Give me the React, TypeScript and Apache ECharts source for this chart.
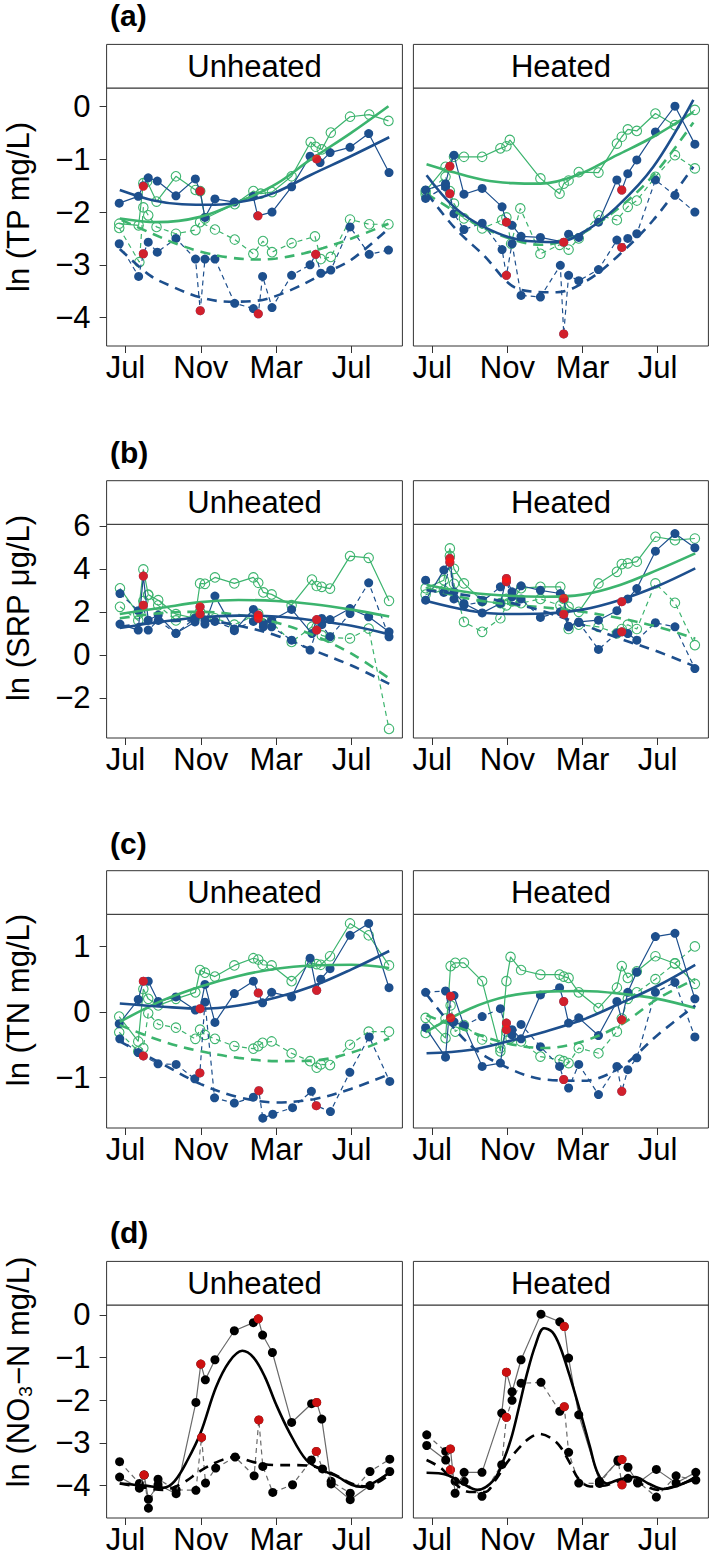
import React, { useEffect, useRef } from "react";
import * as echarts from "echarts";

// ---------- axis / labels ----------
const monthTicks = [0, 4, 8, 12];
const monthLabels = ["Jul", "Nov", "Mar", "Jul"];
const panelTitles = ["Unheated", "Heated"];
const rowLetters = ["(a)", "(b)", "(c)", "(d)"];
const yTitles = ["ln (TP mg/L)", "ln (SRP μg/L)", "ln (TN mg/L)", "ln (NO₃−N mg/L)"];
const yTickValues = [[-4, -3, -2, -1, 0], [-2, 0, 2, 4, 6], [-1, 0, 1], [-4, -3, -2, -1, 0]];
const yRanges = [[-4.54, 0.355], [-3.87, 6.07], [-1.77, 1.49], [-4.76, 0.234]];
const xRange = [-1.0, 14.7];

// ---------- (a) TP, Unheated ----------
const tpU_blue = [[-0.33,-1.83],[0.68,-1.70],[0.95,-1.50],[1.21,-1.35],[1.69,-1.41],[2.68,-1.69],[3.71,-1.37],[3.96,-1.60],[4.22,-2.10],[4.75,-1.75],[5.78,-1.81],[6.78,-1.70],[7.02,-2.07],[7.78,-2.0],[8.82,-1.52],[9.80,-0.94],[10.15,-0.99],[10.33,-1.06],[10.86,-0.87],[11.92,-0.77],[12.91,-0.51],[13.99,-1.25]];
const tpU_blueDash = [[-0.33,-2.60],[0.70,-3.22],[0.95,-2.79],[1.21,-2.57],[1.69,-2.76],[2.68,-2.50],[3.72,-2.89],[3.97,-3.87],[4.22,-2.89],[4.75,-2.89],[5.80,-3.73],[6.79,-3.83],[7.05,-3.93],[7.28,-3.22],[7.78,-3.81],[8.82,-3.20],[9.80,-3.00],[10.10,-2.80],[10.37,-3.16],[10.90,-3.10],[11.92,-2.28],[12.94,-2.80],[13.96,-2.72]];
const tpU_green = [[-0.33,-2.22],[0.70,-2.25],[0.95,-1.45],[1.15,-1.42],[1.65,-1.80],[2.68,-1.32],[3.72,-1.58],[3.97,-1.60],[4.22,-2.12],[5.80,-1.85],[6.79,-1.60],[7.18,-1.65],[7.78,-1.62],[8.82,-1.32],[9.83,-0.67],[10.10,-0.76],[10.42,-0.81],[10.90,-0.49],[11.92,-0.19],[12.94,-0.15],[13.96,-0.27]];
const tpU_greenDash = [[-0.33,-2.30],[0.74,-2.95],[0.95,-1.91],[1.21,-2.06],[1.65,-2.28],[2.68,-2.41],[3.72,-2.34],[3.96,-2.19],[4.75,-2.33],[5.80,-2.52],[6.79,-2.79],[7.30,-2.55],[7.78,-2.76],[8.82,-2.59],[10.06,-2.46],[10.37,-2.89],[10.90,-2.85],[11.92,-2.14],[12.94,-2.23],[13.96,-2.23]];
const tpU_red = [[0.95,-1.51],[0.95,-2.79],[3.97,-1.60],[3.97,-3.87],[7.04,-2.07],[7.05,-3.93],[10.15,-0.99],[10.10,-2.80]];
const tpU_blueFit = [[-0.3,-1.58],[1.5,-1.78],[3,-1.85],[4.75,-1.86],[6.5,-1.78],[8,-1.62],[9.8,-1.30],[11.9,-0.95],[14,-0.58]];
const tpU_blueDashFit = [[-0.3,-2.7],[1.3,-3.2],[2.4,-3.4],[4,-3.62],[5.5,-3.7],[7,-3.68],[8.7,-3.49],[10.5,-3.17],[12,-2.9],[14,-2.3]];
const tpU_greenFit = [[-0.3,-2.12],[1.65,-2.19],[3.96,-2.09],[6.26,-1.77],[8.03,-1.46],[9.8,-1.01],[11.92,-0.51],[13.96,0.01]];
const tpU_greenDashFit = [[-0.2,-2.15],[1.5,-2.42],[2.7,-2.6],[4,-2.75],[5.5,-2.86],[7,-2.9],[8,-2.88],[9.5,-2.78],[10.5,-2.68],[12,-2.5],[13.96,-2.22]];

// ---------- (a) TP, Heated ----------
const tpH_blue = [[-0.35,-1.58],[0.71,-1.46],[0.94,-1.13],[1.16,-0.92],[1.69,-1.66],[2.66,-1.55],[3.72,-1.90],[3.95,-2.19],[4.25,-2.25],[4.73,-2.46],[5.76,-2.48],[7.0,-2.57],[7.26,-2.42],[7.8,-2.48],[8.85,-2.19],[9.83,-1.39],[10.09,-1.58],[10.41,-1.27],[10.89,-1.01],[11.88,-0.48],[12.92,0.01],[13.98,-0.71]];
const tpH_blueDash = [[-0.35,-1.74],[0.71,-1.52],[0.94,-1.65],[1.16,-2.03],[1.69,-2.33],[2.66,-2.21],[3.72,-2.71],[3.95,-3.20],[4.25,-2.60],[4.73,-3.58],[5.76,-3.61],[6.82,-3.01],[7.0,-4.31],[7.26,-3.20],[7.8,-3.30],[8.85,-3.09],[9.83,-2.53],[10.09,-2.67],[10.41,-2.50],[10.89,-2.41],[11.88,-1.39],[12.92,-1.68],[13.98,-2.0]];
const tpH_green = [[-0.35,-1.60],[0.71,-1.14],[1.16,-0.95],[1.69,-0.95],[2.66,-0.95],[3.63,-0.79],[3.95,-0.75],[4.13,-0.63],[5.76,-1.36],[6.78,-1.65],[7.0,-1.46],[7.26,-1.40],[7.8,-1.24],[8.85,-1.25],[9.83,-0.70],[10.09,-0.57],[10.41,-0.43],[10.89,-0.46],[11.88,-0.13],[12.92,-0.35],[13.98,-0.06]];
const tpH_greenDash = [[-0.35,-1.66],[0.71,-1.33],[0.94,-1.60],[1.16,-1.84],[1.69,-2.12],[2.66,-2.31],[3.72,-2.15],[3.95,-2.10],[4.2,-2.60],[4.69,-1.93],[5.76,-2.79],[6.78,-2.62],[7.26,-2.71],[7.8,-2.5],[8.85,-2.06],[9.83,-2.15],[10.41,-1.90],[10.89,-1.78],[11.88,-1.33],[12.92,-0.92],[13.98,-1.17]];
const tpH_red = [[0.94,-1.13],[0.94,-1.65],[3.95,-2.19],[3.95,-3.20],[7.0,-2.57],[7.0,-4.31],[10.09,-1.58],[10.09,-2.67]];
const tpH_blueFit = [[-0.3,-1.30],[1.16,-1.90],[2.75,-2.28],[4.69,-2.53],[6.64,-2.57],[8.23,-2.34],[9.83,-1.90],[11.77,-1.14],[13.9,0.13]];
const tpH_blueDashFit = [[-0.26,-1.65],[1.2,-2.3],[2.66,-2.79],[4.69,-3.47],[6.64,-3.52],[8.23,-3.30],[9.83,-2.85],[11.77,-2.15],[13.9,-1.14]];
const tpH_greenFit = [[-0.3,-1.09],[1.2,-1.25],[2.75,-1.39],[4.3,-1.45],[5.76,-1.46],[7.7,-1.3],[9.83,-0.92],[11.77,-0.57],[13.9,-0.10]];
const tpH_greenDashFit = [[-0.3,-1.65],[1.5,-2.05],[2.75,-2.3],[4.3,-2.52],[5.76,-2.62],[7.7,-2.45],[9.83,-1.95],[11.77,-1.3],[13.9,-0.3]];

// ---------- (b) SRP, Unheated ----------
const srpU_blue = [[-0.29,1.43],[0.68,1.15],[0.95,3.66],[1.21,1.61],[1.74,1.85],[2.68,1.0],[3.69,1.53],[3.96,2.23],[4.22,1.43],[4.75,2.73],[5.78,1.12],[6.79,2.11],[7.05,1.85],[7.32,1.48],[7.76,1.61],[8.82,2.11],[9.9,0.99],[10.15,1.64],[10.42,1.69],[10.86,1.64],[11.92,2.15],[12.91,1.77],[13.99,1.07]];
const srpU_blueDash = [[-0.29,2.85],[0.68,2.05],[0.95,2.31],[1.21,1.15],[1.74,1.6],[2.68,1.0],[3.69,1.7],[3.96,1.9],[4.22,1.6],[4.75,1.55],[5.78,1.2],[6.79,1.55],[7.05,1.7],[7.32,1.3],[7.76,1.3],[8.82,0.68],[9.8,0.22],[10.15,1.15],[10.42,1.4],[10.86,0.84],[11.92,1.92],[12.91,3.35],[13.99,0.84]];
const srpU_green = [[-0.29,3.09],[0.68,1.9],[0.95,3.97],[1.21,2.8],[1.74,2.54],[2.68,1.89],[3.69,1.7],[3.96,3.32],[4.22,3.3],[4.75,3.6],[5.78,3.32],[6.79,3.6],[7.05,3.35],[7.32,2.9],[7.76,2.81],[8.82,2.31],[9.9,3.5],[10.15,3.2],[10.42,3.16],[10.86,3.08],[11.92,4.59],[12.91,4.51],[13.99,2.51]];
const srpU_greenDash = [[-0.29,2.23],[0.68,1.6],[0.95,2.5],[1.21,2.78],[1.74,2.3],[2.68,1.6],[3.69,1.8],[3.96,2.0],[4.22,1.8],[4.75,1.7],[5.78,1.4],[6.79,1.8],[7.05,1.9],[7.32,1.6],[7.76,1.5],[8.82,0.6],[9.9,1.3],[10.15,1.3],[10.42,0.9],[10.86,0.8],[11.92,0.76],[12.91,1.22],[13.99,-3.45]];
const srpU_red = [[0.95,3.66],[0.95,2.31],[3.96,2.23],[3.96,1.9],[7.05,1.85],[7.05,1.7],[10.15,1.64],[10.15,1.15]];
const srpU_blueFit = [[-0.3,1.25],[2,1.55],[4,1.75],[6,1.82],[8,1.78],[10,1.6],[12,1.35],[14,0.95]];
const srpU_blueDashFit = [[-0.3,1.3],[2,1.55],[4,1.6],[6,1.35],[8,0.9],[10,0.2],[12,-0.5],[14,-1.35]];
const srpU_greenFit = [[-0.3,1.9],[2,2.2],[4,2.45],[6,2.55],[8,2.5],[10,2.35],[12,2.1],[14,1.78]];
const srpU_greenDashFit = [[-0.3,1.7],[2,1.95],[4,2.0],[6,1.85],[8,1.5],[10,0.9],[12,0.05],[14,-1.1]];

// ---------- (b) SRP, Heated ----------
const srpH_blue = [[-0.35,2.54],[0.62,3.94],[0.94,4.48],[1.16,2.93],[1.69,2.39],[2.66,1.95],[3.63,2.39],[3.95,3.55],[4.25,2.93],[4.73,3.21],[5.76,3.0],[6.82,2.85],[7.0,2.62],[7.26,1.33],[7.8,1.53],[8.85,1.61],[9.83,2.05],[10.09,2.47],[10.41,2.6],[10.89,3.08],[11.88,4.82],[12.92,5.64],[13.98,4.98]];
const srpH_blueDash = [[-0.35,3.47],[0.62,2.9],[0.94,4.3],[1.16,2.6],[1.69,2.3],[2.66,2.47],[3.63,3.16],[3.95,3.4],[4.25,2.7],[4.73,2.6],[5.76,1.74],[6.82,2.0],[7.0,1.89],[7.26,1.3],[7.8,1.5],[8.85,0.25],[9.83,1.0],[10.09,1.07],[10.41,0.99],[10.89,0.68],[11.88,1.49],[12.92,1.30],[13.98,-0.64]];
const srpH_green = [[-0.35,3.1],[0.62,3.47],[0.94,4.95],[1.16,4.0],[1.69,3.32],[2.66,2.5],[3.63,2.4],[3.95,2.6],[4.25,2.5],[4.73,3.1],[5.76,3.16],[6.82,3.16],[7.0,2.6],[7.26,2.23],[7.8,2.0],[8.85,3.32],[9.83,3.86],[10.09,4.22],[10.41,4.25],[10.89,4.33],[11.88,5.49],[12.92,5.33],[13.98,5.41]];
const srpH_greenDash = [[-0.35,2.8],[0.62,3.0],[0.94,4.6],[1.16,3.3],[1.69,1.53],[2.66,1.07],[3.63,1.7],[3.95,2.3],[4.25,2.5],[4.73,2.4],[5.76,2.6],[6.82,2.3],[7.0,2.0],[7.26,1.2],[7.8,1.4],[8.85,1.3],[9.83,1.0],[10.09,1.2],[10.41,1.4],[10.89,1.2],[11.88,3.32],[12.92,2.42],[13.98,0.45]];
const srpH_red = [[0.94,4.48],[0.94,4.3],[3.95,3.55],[3.95,3.4],[7.0,2.62],[7.0,1.89],[10.09,2.47],[10.09,1.07]];
const srpH_blueFit = [[-0.3,2.5],[2,2.05],[4,1.9],[6,1.92],[8,2.1],[10,2.55],[12,3.2],[14,4.02]];
const srpH_blueDashFit = [[-0.3,3.0],[2,2.75],[4,2.45],[6,2.0],[8,1.4],[10,0.75],[12,0.15],[14,-0.55]];
const srpH_greenFit = [[-0.3,3.25],[2,2.9],[4,2.75],[6,2.7],[8,2.8],[10,3.25],[12,3.95],[14,4.72]];
const srpH_greenDashFit = [[-0.3,3.1],[2,2.6],[4,2.35],[6,2.2],[8,2.0],[10,1.7],[12,1.3],[14,0.75]];

// ---------- (c) TN, Unheated ----------
const tnU_blue = [[-0.33,-0.18],[0.68,0.19],[0.95,0.47],[1.21,0.47],[1.74,0.16],[2.68,0.23],[3.71,0.03],[3.96,0.05],[4.22,0.42],[4.75,-0.16],[5.78,0.28],[6.79,0.47],[7.05,0.29],[7.28,0.14],[7.76,0.30],[8.82,0.23],[9.8,0.82],[10.15,0.33],[10.37,0.50],[10.86,0.66],[11.92,1.17],[12.91,1.35],[13.99,0.37]];
const tnU_blueDash = [[-0.3,-0.41],[0.68,-0.62],[0.95,-0.67],[1.73,-0.79],[2.69,-0.8],[3.68,-1.02],[3.95,-0.93],[4.22,0.15],[4.73,-1.31],[5.78,-1.39],[6.79,-1.30],[7.08,-1.2],[7.29,-1.62],[7.82,-1.56],[8.87,-1.46],[9.87,-1.21],[10.13,-1.43],[10.88,-1.52],[11.91,-0.92],[12.94,-0.38],[14.03,-1.06]];
const tnU_green = [[-0.33,-0.07],[0.68,-0.45],[0.95,0.35],[1.21,0.2],[1.74,0.1],[2.68,0.2],[3.71,0.3],[3.96,0.64],[4.22,0.6],[4.75,0.54],[5.78,0.71],[6.79,0.82],[7.05,0.8],[7.28,0.72],[7.76,0.71],[8.82,0.47],[9.8,0.75],[10.15,0.73],[10.37,0.72],[10.86,0.85],[11.92,1.35],[12.91,1.17],[13.99,0.71]];
const tnU_greenDash = [[-0.33,-0.31],[0.68,-0.6],[0.95,-0.55],[1.21,-0.02],[1.74,-0.19],[2.68,-0.24],[3.71,-0.41],[3.96,-0.27],[4.22,-0.35],[4.75,-0.41],[5.78,-0.52],[6.79,-0.56],[7.05,-0.52],[7.28,-0.47],[7.76,-0.45],[8.82,-0.63],[9.8,-0.75],[10.15,-0.85],[10.37,-0.8],[10.86,-0.81],[11.92,-0.5],[12.91,-0.3],[13.99,-0.3]];
const tnU_red = [[0.95,0.47],[0.95,-0.67],[3.96,0.05],[3.95,-0.93],[7.05,0.29],[7.08,-1.2],[10.15,0.33],[10.13,-1.43]];
const tnU_blueFit = [[-0.3,0.13],[2,0.08],[4,0.05],[6,0.1],[8,0.22],[10,0.4],[12,0.65],[14,0.93]];
const tnU_blueDashFit = [[-0.3,-0.45],[2,-0.8],[4,-1.1],[6,-1.3],[8,-1.38],[10,-1.33],[12,-1.17],[14,-0.95]];
const tnU_greenFit = [[-0.3,-0.15],[2,0.18],[4,0.39],[6,0.55],[8,0.66],[10,0.71],[12,0.72],[14,0.67]];
const tnU_greenDashFit = [[-0.3,-0.2],[2,-0.45],[4,-0.6],[6,-0.7],[8,-0.75],[10,-0.74],[12,-0.62],[14,-0.4]];

// ---------- (c) TN, Heated ----------
const tnH_blue = [[-0.35,-0.24],[0.71,-0.69],[0.98,0.24],[1.16,0.25],[1.69,-0.21],[2.66,-0.83],[3.63,-0.78],[3.95,-0.17],[4.25,-0.27],[4.73,-0.41],[5.76,0.26],[6.78,0.37],[7.0,0.16],[7.26,-0.17],[7.8,-0.09],[8.85,-0.36],[9.83,0.16],[10.09,-0.12],[10.41,0.30],[10.89,0.61],[11.88,1.15],[12.92,1.2],[13.98,0.2]];
const tnH_blueDash = [[-0.35,0.30],[0.71,0.32],[0.98,-0.09],[1.16,-0.15],[1.69,-0.21],[2.66,-0.07],[3.63,0.05],[3.95,-0.27],[4.25,-0.35],[4.73,-0.19],[5.76,-0.53],[6.78,-0.83],[7.0,-1.03],[7.26,-1.16],[7.8,-0.8],[8.85,-1.26],[9.83,-0.83],[10.09,-1.21],[10.41,-0.88],[10.89,-0.70],[11.88,0.30],[12.92,0.45],[13.98,-0.38]];
const tnH_green = [[-0.35,-0.09],[0.71,-0.4],[0.98,0.70],[1.23,0.75],[1.69,0.75],[2.66,0.47],[3.63,-0.6],[3.95,0.47],[4.17,0.84],[4.73,0.64],[5.76,0.57],[6.78,0.57],[7.0,0.54],[7.26,0.52],[7.8,0.3],[8.85,0.06],[9.83,0.37],[10.09,0.70],[10.41,0.52],[10.89,0.62],[11.88,0.85],[12.92,0.74],[13.98,0.43]];
const tnH_greenDash = [[-0.35,-0.32],[0.71,-0.1],[0.98,0.1],[1.23,-0.3],[1.69,-0.2],[2.66,-0.42],[3.63,-0.55],[3.95,-0.3],[4.17,-0.4],[4.73,-0.45],[5.76,-0.68],[6.78,-0.73],[7.0,-0.75],[7.26,-0.78],[7.8,-0.55],[8.85,-0.63],[9.83,-0.3],[10.09,-0.1],[10.41,0.2],[10.89,0.3],[11.88,0.5],[12.92,0.74],[13.98,1.0]];
const tnH_red = [[0.98,0.24],[0.98,-0.09],[3.95,-0.17],[3.95,-0.27],[7.0,0.16],[7.0,-1.03],[10.09,-0.12],[10.09,-1.21]];
const tnH_blueFit = [[-0.3,-0.63],[2,-0.58],[4,-0.45],[6,-0.3],[8,-0.12],[10,0.13],[12,0.4],[14,0.72]];
const tnH_blueDashFit = [[-0.3,0.27],[2,-0.5],[4,-0.85],[6,-1.03],[8,-1.05],[10,-0.85],[12,-0.35],[14,0.1]];
const tnH_greenFit = [[-0.3,-0.3],[2,0.05],[4,0.24],[6,0.31],[8,0.32],[10,0.28],[12,0.2],[14,0.06]];
const tnH_greenDashFit = [[-0.3,-0.05],[2,-0.3],[4,-0.48],[6,-0.55],[8,-0.45],[10,-0.2],[12,0.2],[14,0.5]];

// ---------- (d) NO3-N, Unheated ----------
const noU_solid = [[-0.31,-3.80],[0.74,-4.06],[0.99,-3.75],[1.22,-4.32],[1.73,-3.98],[2.69,-4.19],[3.74,-2.05],[4.0,-1.15],[4.24,-1.52],[4.75,-1.05],[5.78,-0.37],[6.79,-0.18],[7.05,-0.09],[7.28,-0.47],[7.8,-0.88],[8.82,-2.52],[9.88,-2.08],[10.15,-2.05],[10.42,-2.44],[10.92,-3.96],[11.93,-4.33],[12.98,-4.0],[14.03,-3.67]];
const noU_dash = [[-0.31,-3.44],[0.74,-3.95],[0.99,-3.75],[1.22,-4.53],[1.73,-3.85],[2.69,-4.1],[3.74,-4.11],[4.04,-2.87],[4.25,-3.94],[4.79,-3.59],[5.82,-3.33],[6.83,-3.77],[7.08,-2.46],[7.29,-3.55],[7.82,-4.16],[8.87,-3.98],[9.87,-3.40],[10.13,-3.20],[10.46,-3.61],[10.92,-3.9],[11.93,-4.18],[12.98,-3.67],[14.03,-3.38]];
const noU_red = [[0.99,-3.75],[4.0,-1.15],[4.04,-2.87],[7.05,-0.09],[7.08,-2.46],[10.15,-2.05],[10.13,-3.2]];
const noU_fit = [[-0.3,-3.95],[1,-4.0],[2,-4.05],[2.6,-3.9],[3.3,-3.4],[4,-2.75],[4.8,-1.7],[5.5,-1.1],[6.2,-0.84],[6.8,-1.0],[7.4,-1.45],[8,-2.1],[8.7,-2.75],[9.6,-3.4],[10.5,-3.65],[11.3,-3.8],[12,-3.98],[12.6,-4.03],[13.3,-3.9],[14,-3.7]];
const noU_dashFit = [[-0.3,-3.95],[1,-4.05],[2,-4.1],[3,-3.95],[4,-3.65],[5,-3.42],[5.8,-3.33],[6.8,-3.45],[8,-3.52],[9,-3.52],[10,-3.55],[11,-3.72],[12,-3.95],[12.8,-4.02],[13.5,-3.9],[14,-3.75]];

// ---------- (d) NO3-N, Heated ----------
const noH_solid = [[-0.29,-3.06],[0.72,-3.4],[0.97,-3.14],[1.22,-4.18],[1.7,-3.69],[2.65,-3.69],[3.7,-2.30],[3.95,-1.34],[4.25,-1.8],[4.73,-1.05],[5.79,0.02],[6.79,-0.16],[7.03,-0.27],[7.26,-1.01],[7.8,-2.34],[8.9,-3.9],[9.89,-3.43],[10.1,-3.39],[10.42,-3.57],[10.94,-3.94],[11.93,-3.62],[12.98,-3.94],[14.03,-3.69]];
const noH_dash = [[-0.29,-2.81],[0.72,-3.2],[0.97,-3.63],[1.22,-3.9],[1.7,-3.9],[2.65,-4.25],[3.7,-3.51],[3.95,-2.4],[4.25,-2.0],[4.73,-1.6],[5.79,-1.58],[6.79,-2.26],[7.03,-2.15],[7.26,-3.22],[7.8,-3.94],[8.9,-3.95],[9.89,-3.4],[10.1,-3.98],[10.42,-3.83],[10.94,-3.9],[11.93,-4.27],[12.98,-3.77],[14.03,-3.87]];
const noH_red = [[0.97,-3.14],[0.97,-3.63],[3.95,-1.34],[3.95,-2.4],[7.03,-0.27],[7.03,-2.15],[10.1,-3.39],[10.1,-3.98]];
const noH_fit = [[-0.3,-3.7],[0.8,-3.75],[1.6,-3.95],[2.4,-4.1],[3.3,-3.86],[3.8,-3.4],[4.2,-2.9],[4.6,-2.2],[5.05,-1.37],[5.5,-0.7],[5.95,-0.31],[6.4,-0.4],[6.8,-0.74],[7.3,-1.4],[7.9,-2.3],[8.4,-3.1],[8.8,-3.7],[9.3,-3.95],[10,-3.85],[10.8,-3.8],[11.5,-3.95],[12.3,-4.08],[13.2,-3.98],[14,-3.8]];
const noH_dashFit = [[-0.3,-3.4],[0.5,-3.6],[1.2,-3.95],[2.0,-4.15],[2.8,-4.15],[3.4,-3.85],[4.0,-3.45],[4.7,-3.08],[5.2,-2.88],[5.7,-2.79],[6.3,-2.88],[6.8,-3.08],[7.3,-3.45],[7.8,-3.85],[8.4,-4.02],[9.2,-4.0],[10,-3.9],[11,-3.95],[12,-4.1],[13,-4.0],[14,-3.85]];

// ---------- layout & style ----------
const FONT = "'Liberation Sans', Arial, Helvetica, sans-serif";
const BLUE = "#1d4f8d";
const GREEN = "#3cb46e";
const RED = "#ff1414";
const GREY = "#6a6a6a";
const FRAME = "#333";
const colLeft = [106.6, 413.4];
const colWidth = [295.8, 295];
const rowTop = [88, 524.3, 914.3, 1305];
const rowHeight = [258, 213.7, 213.7, 213];
const stripH = 43.6;
const letterY = [15, 452, 843, 1232];
const yTitleY = [207, 608, 1000, 1372];

type Pts = number[][];
interface Panel {
  mono: boolean;
  greenSolid?: Pts; greenDash?: Pts; greenFit?: Pts; greenDashFit?: Pts;
  solid: Pts; dash: Pts; fit: Pts; dashFit: Pts; red: Pts;
}

const panels: Panel[][] = [
  [
    { mono: false, greenSolid: tpU_green, greenDash: tpU_greenDash, greenFit: tpU_greenFit, greenDashFit: tpU_greenDashFit, solid: tpU_blue, dash: tpU_blueDash, fit: tpU_blueFit, dashFit: tpU_blueDashFit, red: tpU_red },
    { mono: false, greenSolid: tpH_green, greenDash: tpH_greenDash, greenFit: tpH_greenFit, greenDashFit: tpH_greenDashFit, solid: tpH_blue, dash: tpH_blueDash, fit: tpH_blueFit, dashFit: tpH_blueDashFit, red: tpH_red },
  ],
  [
    { mono: false, greenSolid: srpU_green, greenDash: srpU_greenDash, greenFit: srpU_greenFit, greenDashFit: srpU_greenDashFit, solid: srpU_blue, dash: srpU_blueDash, fit: srpU_blueFit, dashFit: srpU_blueDashFit, red: srpU_red },
    { mono: false, greenSolid: srpH_green, greenDash: srpH_greenDash, greenFit: srpH_greenFit, greenDashFit: srpH_greenDashFit, solid: srpH_blue, dash: srpH_blueDash, fit: srpH_blueFit, dashFit: srpH_blueDashFit, red: srpH_red },
  ],
  [
    { mono: false, greenSolid: tnU_green, greenDash: tnU_greenDash, greenFit: tnU_greenFit, greenDashFit: tnU_greenDashFit, solid: tnU_blue, dash: tnU_blueDash, fit: tnU_blueFit, dashFit: tnU_blueDashFit, red: tnU_red },
    { mono: false, greenSolid: tnH_green, greenDash: tnH_greenDash, greenFit: tnH_greenFit, greenDashFit: tnH_greenDashFit, solid: tnH_blue, dash: tnH_blueDash, fit: tnH_blueFit, dashFit: tnH_blueDashFit, red: tnH_red },
  ],
  [
    { mono: true, solid: noU_solid, dash: noU_dash, fit: noU_fit, dashFit: noU_dashFit, red: noU_red },
    { mono: true, solid: noH_solid, dash: noH_dash, fit: noH_fit, dashFit: noH_dashFit, red: noH_red },
  ],
];

function dataLine(data: Pts, gi: number, color: string, lineColor: string, dashed: boolean, open: boolean, z: number) {
  return {
    type: "line", xAxisIndex: gi, yAxisIndex: gi, data, z,
    symbol: "circle", symbolSize: open ? 9.5 : 9, showSymbol: true, silent: true,
    lineStyle: { color: lineColor, width: 1.2, type: dashed ? [5, 4] : "solid" },
    itemStyle: open ? { color: "rgba(0,0,0,0)", borderColor: color, borderWidth: 1.1 } : { color, borderWidth: 0 },
    emphasis: { disabled: true },
  };
}
function fitLine(data: Pts, gi: number, color: string, dashed: boolean, z: number) {
  return {
    type: "line", xAxisIndex: gi, yAxisIndex: gi, data, z, smooth: 0.35,
    symbol: "none", showSymbol: false, silent: true,
    lineStyle: { color, width: 2.6, type: dashed ? [10, 7] : "solid" },
    emphasis: { disabled: true },
  };
}

function buildOption() {
  const grid: any[] = [];
  const xAxis: any[] = [];
  const yAxis: any[] = [];
  const series: any[] = [];
  const graphic: any[] = [];
  for (let r = 0; r < 4; r++) {
    for (let c = 0; c < 2; c++) {
      const gi = r * 2 + c;
      grid.push({ left: colLeft[c], top: rowTop[r], width: colWidth[c], height: rowHeight[r], show: true, borderColor: FRAME, borderWidth: 1, backgroundColor: "transparent", containLabel: false });
      xAxis.push({
        type: "value", gridIndex: gi, min: xRange[0], max: xRange[1],
        axisLine: { show: false, onZero: false }, splitLine: { show: false },
        axisTick: { show: true, customValues: monthTicks, length: 7, lineStyle: { color: FRAME, width: 1 } },
        axisLabel: { customValues: monthTicks, formatter: (v: number) => monthLabels[monthTicks.indexOf(v)] ?? "", fontSize: 31, lineHeight: 31, fontFamily: FONT, color: "#000", margin: 6 },
      });
      yAxis.push({
        type: "value", gridIndex: gi, min: yRanges[r][0], max: yRanges[r][1],
        axisLine: { show: false, onZero: false }, splitLine: { show: false },
        axisTick: { show: c === 0, customValues: yTickValues[r], length: 7, lineStyle: { color: FRAME, width: 1 } },
        axisLabel: { show: c === 0, customValues: yTickValues[r], formatter: (v: number) => String(v).replace("-", "\u2212"), fontSize: 31, fontFamily: FONT, color: "#000", margin: 16 },
      });
      const p = panels[r][c];
      if (p.mono) {
        series.push(dataLine(p.dash, gi, "#000", GREY, true, false, 2));
        series.push(dataLine(p.solid, gi, "#000", GREY, false, false, 3));
        series.push(fitLine(p.dashFit, gi, "#000", true, 4));
        series.push(fitLine(p.fit, gi, "#000", false, 4));
      } else {
        series.push(dataLine(p.greenDash!, gi, GREEN, GREEN, true, true, 2));
        series.push(dataLine(p.greenSolid!, gi, GREEN, GREEN, false, true, 2));
        series.push(dataLine(p.dash, gi, BLUE, BLUE, true, false, 3));
        series.push(dataLine(p.solid, gi, BLUE, BLUE, false, false, 3));
        series.push(fitLine(p.greenDashFit!, gi, GREEN, true, 4));
        series.push(fitLine(p.greenFit!, gi, GREEN, false, 4));
        series.push(fitLine(p.dashFit, gi, BLUE, true, 4));
        series.push(fitLine(p.fit, gi, BLUE, false, 4));
      }
      series.push({ type: "scatter", xAxisIndex: gi, yAxisIndex: gi, data: p.red, symbol: "circle", symbolSize: 9, itemStyle: { color: RED }, z: 6, silent: true, emphasis: { disabled: true } });

      // strip
      graphic.push({ type: "rect", shape: { x: colLeft[c], y: rowTop[r] - stripH, width: colWidth[c], height: stripH }, style: { fill: "#fff", stroke: FRAME, lineWidth: 1 }, z: 10 });
      graphic.push({ type: "text", x: colLeft[c] + colWidth[c] / 2, y: rowTop[r] - stripH / 2, style: { text: panelTitles[c], font: `31px ${FONT}`, fill: "#000", textAlign: "center", textVerticalAlign: "middle", align: "center", verticalAlign: "middle" }, z: 11 });
    }
    graphic.push({ type: "text", x: 110, y: letterY[r], style: { text: rowLetters[r], font: `bold 30px ${FONT}`, fill: "#000", textAlign: "left", textVerticalAlign: "middle", align: "left", verticalAlign: "middle" }, z: 11 });
    graphic.push({ type: "text", x: 18, y: yTitleY[r], rotation: Math.PI / 2, style: { text: yTitles[r], font: `31px ${FONT}`, fill: "#000", textAlign: "center", textVerticalAlign: "middle", align: "center", verticalAlign: "middle" }, z: 11 });
  }
  return { animation: false, backgroundColor: "#fff", grid, xAxis, yAxis, series, graphic };
}

export default function App() {
  const ref = useRef<HTMLDivElement>(null);
  useEffect(() => {
    if (!ref.current) return;
    document.body.style.margin = "0";
    const chart = echarts.init(ref.current, undefined, { renderer: "svg" });
    chart.setOption(buildOption() as any);
    return () => chart.dispose();
  }, []);
  return <div ref={ref} style={{ position: "absolute", left: 0, top: 0, width: 709, height: 1557 }} />;
}
